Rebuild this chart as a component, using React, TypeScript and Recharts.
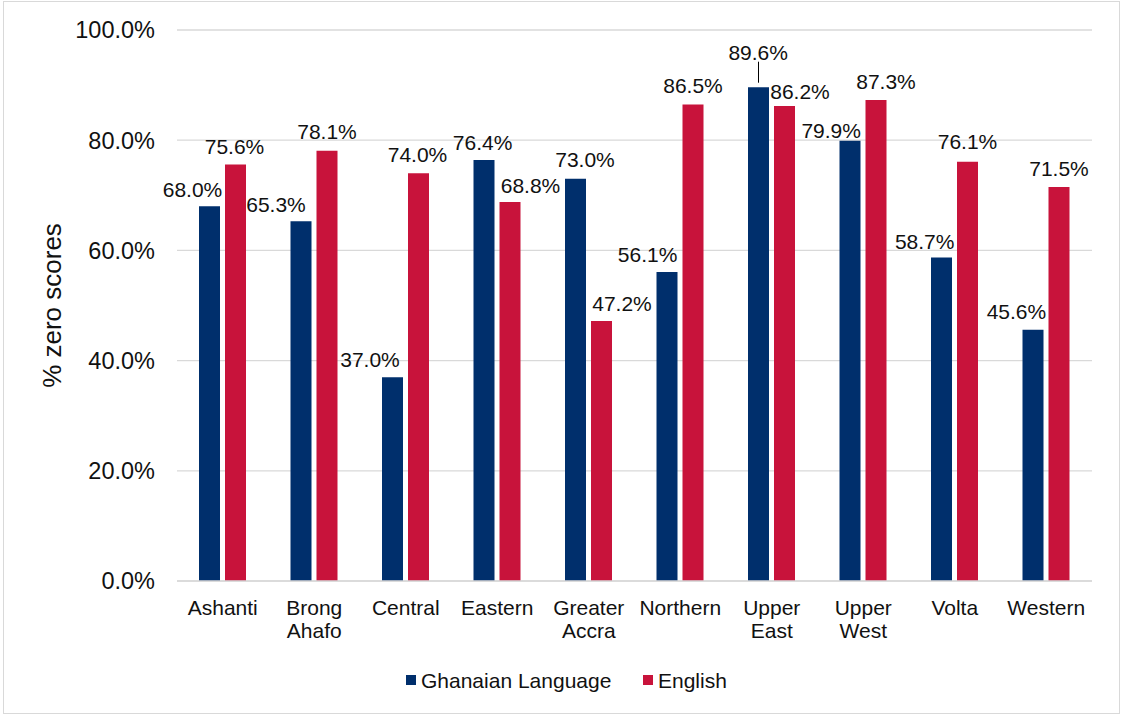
import React from "react";
import { BarChart, Bar, XAxis, YAxis, CartesianGrid } from "recharts";

const regions = ["Ashanti", "Brong Ahafo", "Central", "Eastern", "Greater Accra", "Northern", "Upper East", "Upper West", "Volta", "Western"];
const ghanaianLanguage = [68.0, 65.3, 37.0, 76.4, 73.0, 56.1, 89.6, 79.9, 58.7, 45.6];
const english = [75.6, 78.1, 74.0, 68.8, 47.2, 86.5, 86.2, 87.3, 76.1, 71.5];
const yTicks = [0, 20, 40, 60, 80, 100];
const seriesNames = ["Ghanaian Language", "English"];

// label nudges (dx from bar center, dy = digit-center relative to bar top)
const ghNudge = [
  { dx: -17, dy: -16.7 },
  { dx: -25, dy: -16.8 },
  { dx: -22.5, dy: -17.5 },
  { dx: -1.4, dy: -17.3 },
  { dx: 9.5, dy: -19.3 },
  { dx: -19.4, dy: -17.8 },
  { dx: -0.3, dy: -35.3, leader: true },
  { dx: -18.8, dy: -10 },
  { dx: -16.8, dy: -15.7 },
  { dx: -16.6, dy: -18.5 },
];
const enNudge = [
  { dx: -1, dy: -18 },
  { dx: 0, dy: -18.7 },
  { dx: -1, dy: -18.8 },
  { dx: 20.5, dy: -16.7 },
  { dx: 20.5, dy: -17 },
  { dx: 0, dy: -18.7 },
  { dx: 15.5, dy: -14.6 },
  { dx: 10, dy: -18.7 },
  { dx: 0, dy: -19.8 },
  { dx: 0, dy: -18.6 },
];

const data = regions.map((r, i) => ({ region: r, gh: ghanaianLanguage[i], en: english[i] }));

const FONT = "'Liberation Sans', Arial, sans-serif";
const BLUE = "#002F6C";
const RED = "#C8133B";
const GRID = "#d9d9d9";
const TEXT = "#111";

const makeLabel = (nudges: any[], values: number[]) => (props: any) => {
  const { x, y, width, value } = props;
  let idx = props.index;
  if (idx === undefined || idx === null) idx = values.indexOf(Number(value));
  const n = nudges[idx] || { dx: 0, dy: -18.5 };
  const cx = Number(x) + Number(width) / 2;
  const top = Number(y);
  const lx = cx + n.dx;
  const ly = top + n.dy;
  return (
    <g key={`lbl-${idx}`}>
      {n.leader ? (
        <line x1={cx} x2={cx} y1={ly + 9.7} y2={top - 4.6} stroke="#000" strokeWidth={1} />
      ) : null}
      <text x={lx} y={ly + 7.5} textAnchor="middle" fontFamily={FONT} fontSize={21} fill={TEXT}>
        {Number(value).toFixed(1) + "%"}
      </text>
    </g>
  );
};

const XTick = (props: any) => {
  const { x, y, payload } = props;
  const lines = String(payload.value).split(" ");
  return (
    <g>
      {lines.map((l, i) => (
        <text key={i} x={x} y={y + 15 + i * 22.5} textAnchor="middle" fontFamily={FONT} fontSize={21} fill={TEXT}>
          {l}
        </text>
      ))}
    </g>
  );
};

const YTick = (props: any) => {
  const { x, y, payload } = props;
  return (
    <text x={x} y={y + 8.4} textAnchor="end" fontFamily={FONT} fontSize={23.5} fill={TEXT}>
      {Number(payload.value).toFixed(1) + "%"}
    </text>
  );
};

const YLabel = (props: any) => {
  const vb = props.viewBox || { x: 0, y: 30, width: 177, height: 551 };
  const cx = 52;
  const cy = vb.y + vb.height / 2;
  return (
    <text
      x={cx}
      y={cy}
      transform={`rotate(-90, ${cx}, ${cy})`}
      textAnchor="middle"
      dominantBaseline="central"
      fontFamily={FONT}
      fontSize={26}
      fill={TEXT}
    >
      % zero scores
    </text>
  );
};

export default function App() {
  return (
    <div style={{ position: "absolute", left: 0, top: 0, width: 1122, height: 716, background: "#fff", fontFamily: FONT }}>
      <div
        style={{
          position: "absolute",
          left: 3,
          top: 1,
          width: 1117,
          height: 713,
          border: `1px solid ${GRID}`,
          boxSizing: "border-box",
          pointerEvents: "none",
        }}
      />
      <BarChart
        width={1122}
        height={716}
        data={data}
        margin={{ top: 30, right: 30, bottom: 105, left: 0 }}
        barGap={5}
        style={{ position: "absolute", left: 0, top: 0 }}
      >
        <CartesianGrid vertical={false} stroke={GRID} strokeWidth={1.3} />
        <XAxis
          dataKey="region"
          height={30}
          axisLine={{ stroke: GRID, strokeWidth: 1.3 }}
          tickLine={false}
          tickSize={6}
          tickMargin={13}
          interval={0}
          tick={<XTick />}
        />
        <YAxis
          width={177}
          domain={[0, 100]}
          ticks={yTicks}
          axisLine={false}
          tickLine={false}
          tickSize={6}
          tickMargin={16}
          tick={<YTick />}
          label={<YLabel />}
        />
        <Bar dataKey="gh" name={seriesNames[0]} fill={BLUE} barSize={21} isAnimationActive={false} label={makeLabel(ghNudge, ghanaianLanguage)} />
        <Bar dataKey="en" name={seriesNames[1]} fill={RED} barSize={21} isAnimationActive={false} label={makeLabel(enNudge, english)} />
      </BarChart>
      <div style={{ position: "absolute", left: 406, top: 675, width: 10, height: 10, background: BLUE }} />
      <span style={{ position: "absolute", left: 421, top: 668.5, fontSize: 21, lineHeight: "normal", color: TEXT, whiteSpace: "nowrap" }}>
        {seriesNames[0]}
      </span>
      <div style={{ position: "absolute", left: 643, top: 675, width: 10, height: 10, background: RED }} />
      <span style={{ position: "absolute", left: 658, top: 668.5, fontSize: 21, lineHeight: "normal", color: TEXT, whiteSpace: "nowrap" }}>
        {seriesNames[1]}
      </span>
    </div>
  );
}
